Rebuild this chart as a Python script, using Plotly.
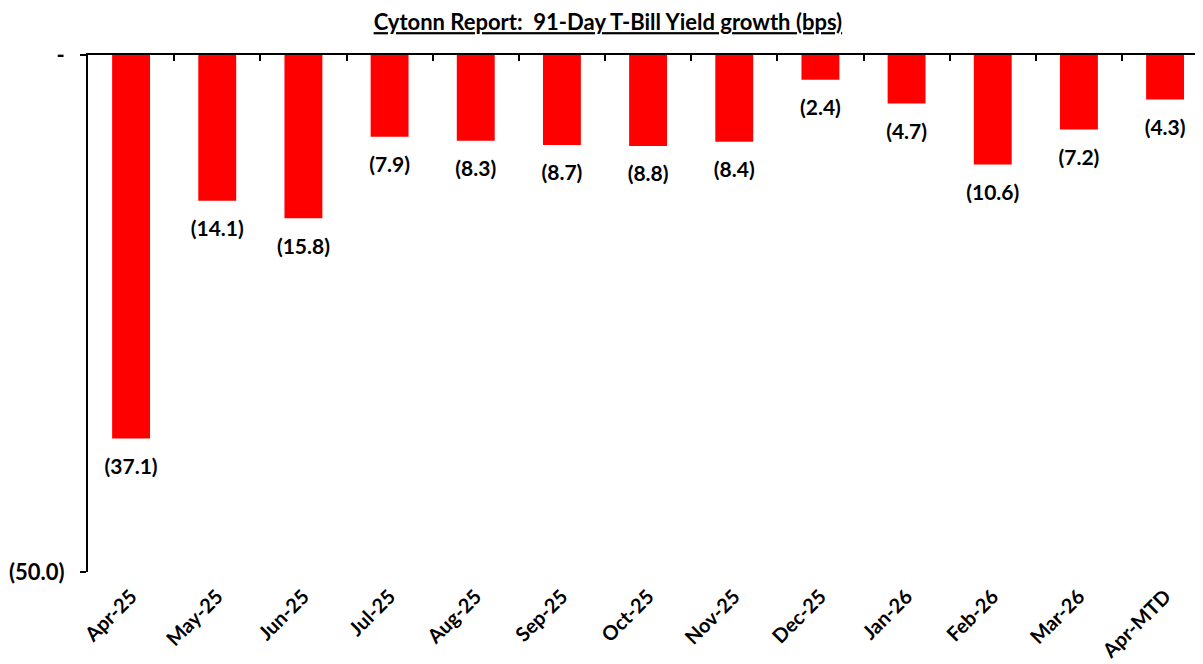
import plotly.graph_objects as go

categories = ["Apr-25", "May-25", "Jun-25", "Jul-25", "Aug-25", "Sep-25", "Oct-25",
              "Nov-25", "Dec-25", "Jan-26", "Feb-26", "Mar-26", "Apr-MTD"]
values = [-37.1, -14.1, -15.8, -7.9, -8.3, -8.7, -8.8, -8.4, -2.4, -4.7, -10.6, -7.2, -4.3]
y_tickvals = [-50, 0]
y_ticktext = ["(50.0)", "-"]
title_text = "Cytonn Report:  91-Day T-Bill Yield growth (bps)"

labels = [f"<b>({abs(v):.1f})</b>" for v in values]
FONT = "Lato"
x_range = [-0.5, len(categories) - 0.56]

# the page body has an 8px default margin, so the figure is made 8px smaller
fig = go.Figure()
fig.add_trace(go.Bar(
    x=categories, y=values, marker=dict(color="#FF0000", line=dict(width=0)),
    hoverinfo="x+y",
))
fig.add_trace(go.Scatter(
    x=categories, y=values, mode="markers+text", text=labels,
    textposition="bottom center", cliponaxis=False,
    textfont=dict(family=FONT, size=21, color="black"),
    marker=dict(size=30, opacity=0), hoverinfo="skip", showlegend=False,
))
fig.add_trace(go.Scatter(
    x=categories, y=[0]*len(categories), xaxis="x2", mode="markers",
    marker=dict(opacity=0), hoverinfo="skip", showlegend=False,
))

fig.update_layout(
    width=1195, height=656,
    margin=dict(l=80, r=0, t=47, b=92),
    paper_bgcolor="white", plot_bgcolor="white",
    showlegend=False,
    bargap=0.56,
    title=dict(text=f"<b><u>{title_text}</u></b>", x=0.502, xanchor="center",
               y=0.978, yanchor="middle",
               font=dict(family=FONT, size=22, color="black")),
    xaxis=dict(type="category", categoryorder="array", categoryarray=categories,
               range=x_range, automargin=False,
               tickvals=categories, ticktext=[f"<b>{c}</b>" for c in categories],
               showline=False, ticks="", showgrid=False, zeroline=False,
               tickangle=-45, tickfont=dict(family=FONT, size=20, color="black"),
               ticklabelstandoff=8),
    xaxis2=dict(type="category", categoryorder="array", categoryarray=categories,
                range=x_range, overlaying="x", side="top",
                anchor="y", showline=True, linecolor="black", linewidth=2,
                automargin=False,
                ticks="inside", tickson="boundaries", ticklen=6, tickwidth=2,
                tickcolor="black", showticklabels=False, showgrid=False),
    yaxis=dict(range=[-50, 0], tickvals=y_tickvals,
               ticktext=[f"<b>{t}</b>" for t in y_ticktext],
               showline=True, linecolor="black", linewidth=2, automargin=False,
               ticks="outside", ticklen=6, tickwidth=2, tickcolor="black",
               showgrid=False, zeroline=False, ticklabelstandoff=11,
               tickfont=dict(family=FONT, size=22, color="black")),
    font=dict(family=FONT, color="black"),
)

fig.write_html("out.html")
